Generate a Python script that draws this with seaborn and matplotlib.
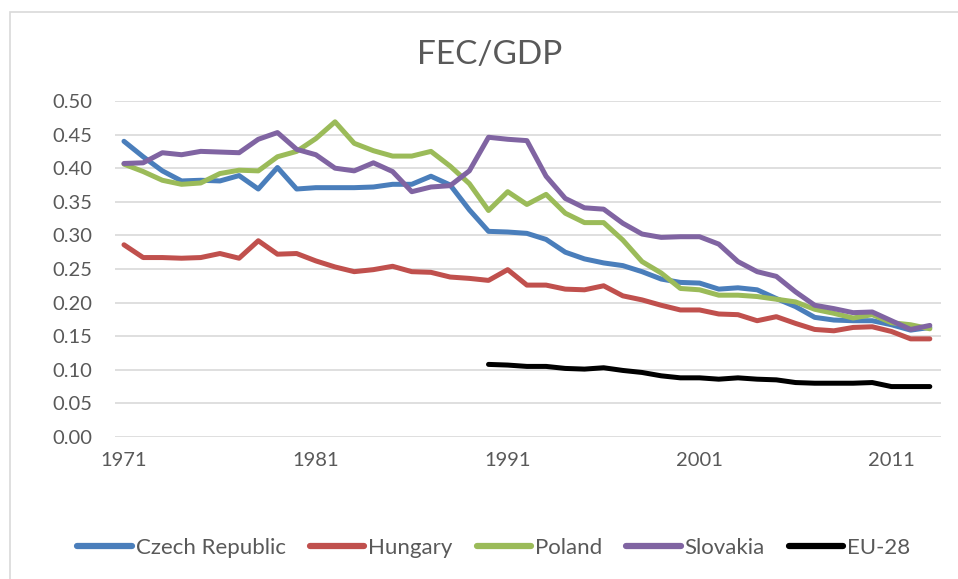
import numpy as np
import pandas as pd
import matplotlib
matplotlib.use("Agg")
import matplotlib.pyplot as plt
from matplotlib.patches import Rectangle
import seaborn as sns


# =========================
# DATA
# =========================

YEARS = list(range(1971, 2014))

CZECH = [0.440, 0.417, 0.396, 0.381, 0.382, 0.381, 0.389, 0.369, 0.401, 0.369,
         0.371, 0.371, 0.371, 0.372, 0.376, 0.376, 0.388, 0.375, 0.338, 0.306,
         0.305, 0.303, 0.294, 0.275, 0.265, 0.259, 0.255, 0.246, 0.235, 0.230,
         0.229, 0.220, 0.222, 0.219, 0.206, 0.194, 0.178, 0.174, 0.173, 0.173,
         0.167, 0.159, 0.163]

HUNGARY = [0.286, 0.267, 0.267, 0.266, 0.267, 0.273, 0.266, 0.292, 0.272, 0.273,
           0.262, 0.253, 0.246, 0.249, 0.254, 0.246, 0.245, 0.238, 0.236, 0.233,
           0.249, 0.226, 0.226, 0.220, 0.219, 0.225, 0.210, 0.204, 0.196, 0.189,
           0.189, 0.183, 0.182, 0.173, 0.179, 0.169, 0.160, 0.158, 0.163, 0.164,
           0.157, 0.146, 0.146]

POLAND = [0.406, 0.395, 0.382, 0.376, 0.378, 0.392, 0.397, 0.396, 0.417, 0.425,
          0.444, 0.469, 0.437, 0.426, 0.418, 0.418, 0.425, 0.403, 0.377, 0.337,
          0.365, 0.346, 0.361, 0.333, 0.319, 0.319, 0.293, 0.261, 0.244, 0.221,
          0.219, 0.211, 0.211, 0.209, 0.205, 0.201, 0.190, 0.184, 0.177, 0.182,
          0.170, 0.167, 0.161]

SLOVAKIA = [0.407, 0.408, 0.423, 0.420, 0.425, 0.424, 0.423, 0.443, 0.453, 0.428,
            0.420, 0.400, 0.396, 0.408, 0.395, 0.365, 0.372, 0.374, 0.396, 0.446,
            0.443, 0.441, 0.388, 0.355, 0.341, 0.339, 0.318, 0.302, 0.297, 0.298,
            0.298, 0.287, 0.261, 0.246, 0.239, 0.216, 0.196, 0.191, 0.185, 0.186,
            0.173, 0.160, 0.166]

EU28 = [np.nan] * 19 + [0.108, 0.107, 0.105, 0.105, 0.102, 0.101, 0.103, 0.099,
                        0.096, 0.091, 0.088, 0.088, 0.086, 0.088, 0.086, 0.085,
                        0.081, 0.080, 0.080, 0.080, 0.081, 0.075, 0.075, 0.075]

SERIES = ["Czech Republic", "Hungary", "Poland", "Slovakia", "EU-28"]
COLORS = ["#4a7ebb", "#c0504d", "#9bbb59", "#8064a2", "#000000"]

X_TICKS = [1971, 1981, 1991, 2001, 2011]
Y_TICKS = [0.00, 0.05, 0.10, 0.15, 0.20, 0.25, 0.30, 0.35, 0.40, 0.45, 0.50]

TEXT_COLOR = "#595959"
GRID_COLOR = "#d9d9d9"


# =========================
# BUILD LONG TABLE
# =========================

df = pd.DataFrame({"Year": YEARS})
for name, vals in zip(SERIES, [CZECH, HUNGARY, POLAND, SLOVAKIA, EU28]):
    df[name] = vals

long_df = df.melt(id_vars="Year", var_name="Country", value_name="FEC/GDP")
long_df = long_df.dropna()


# =========================
# PLOT
# =========================

sns.set_style("white")
plt.rcParams["font.family"] = ["Lato", "DejaVu Sans"]

fig = plt.figure(figsize=(9.58, 5.79), dpi=100)
ax = fig.add_axes([0.120, 0.2453, 0.862, 0.5803])

sns.lineplot(
    data=long_df,
    x="Year",
    y="FEC/GDP",
    hue="Country",
    hue_order=SERIES,
    palette=COLORS,
    linewidth=3.6,
    ax=ax,
    legend=True,
)

ax.set_xlim(1970.53, 2013.57)
ax.set_ylim(0, 0.5)
ax.set_xticks(X_TICKS)
ax.set_xticklabels([str(y) for y in X_TICKS])
ax.set_yticks(Y_TICKS)
ax.set_yticklabels([f"{v:.2f}" for v in Y_TICKS])

ax.tick_params(axis="y", length=0, pad=16, labelsize=14.5, labelcolor=TEXT_COLOR)
ax.tick_params(axis="x", length=0, pad=11, labelsize=14.5, labelcolor=TEXT_COLOR)

ax.grid(axis="y", color=GRID_COLOR, linewidth=1.2)
ax.grid(axis="x", visible=False)
ax.set_axisbelow(True)
for spine in ax.spines.values():
    spine.set_visible(False)

ax.set_xlabel("")
ax.set_ylabel("")

fig.text(0.5115, 0.905, "FEC/GDP", ha="center", va="center",
         fontsize=24, color=TEXT_COLOR)

handles, labels = ax.get_legend_handles_labels()
for h in handles:
    h.set_linewidth(4.5)
ax.legend(
    handles, labels,
    loc="center",
    bbox_to_anchor=(0.5157, 0.0535),
    bbox_transform=fig.transFigure,
    ncol=5,
    frameon=False,
    fontsize=16,
    labelcolor=TEXT_COLOR,
    handlelength=2.45,
    handletextpad=0.18,
    columnspacing=1.08,
)

# chart border (the screenshot cuts it at right and bottom)
fig.patches.append(Rectangle((10 / 958, -0.1), 1.2, 0.1 + (1 - 12 / 579),
                             transform=fig.transFigure, fill=False,
                             edgecolor=GRID_COLOR, linewidth=1.2))

fig.savefig("out.png", dpi=100)
